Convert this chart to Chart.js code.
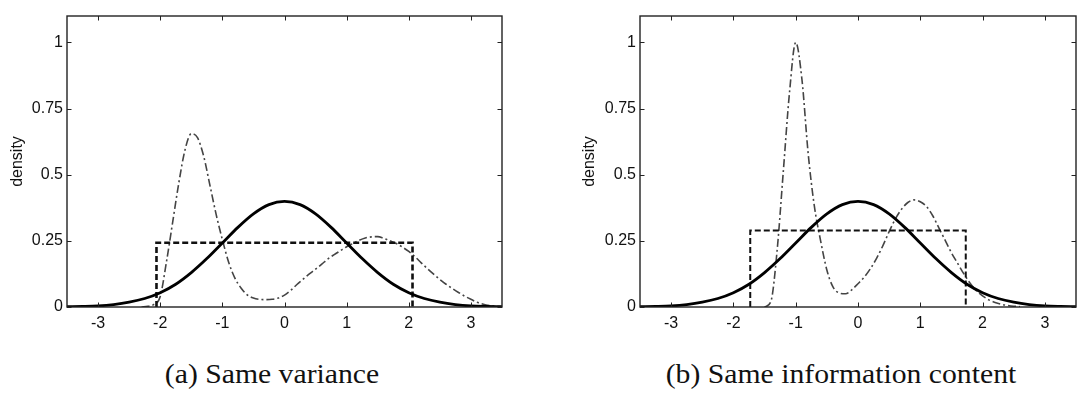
<!DOCTYPE html>
<html><head><meta charset="utf-8">
<script src="https://cdn.jsdelivr.net/npm/chart.js@4.4.1/dist/chart.umd.min.js"></script>
<style>
html,body{margin:0;padding:0;background:#fff;}
body{width:1087px;height:398px;position:relative;overflow:hidden;}
canvas{position:absolute;top:0;}
#c1{left:0;} #c2{left:572px;}
.cap{position:absolute;top:361px;font-family:"Liberation Serif",serif;font-size:27px;line-height:27px;color:#111;white-space:nowrap;transform:translateX(-50%) scaleX(1.1);}
</style></head><body>
<canvas id="c1" width="540" height="345"></canvas>
<canvas id="c2" width="515" height="345"></canvas>
<div class="cap" id="capA" style="left:272px"></div>
<div class="cap" id="capB" style="left:841px"></div>
<script>
// ---- data ----
const captions = ['(a) Same variance', '(b) Same information content'];
const yAxisTitle = 'density';
const xTickValues = [-3, -2, -1, 0, 1, 2, 3];
const xTickLabels = ['-3', '-2', '-1', '0', '1', '2', '3'];
const yTickValues = [0, 0.25, 0.5, 0.75, 1];
const yTickLabels = ['0', '0.25', '0.5', '0.75', '1'];
const xMin = -3.5, xMax = 3.5, yMax = 1.1;

// Gaussian (solid), same in both panels
const normalX = [-3.5,-3.25,-3,-2.75,-2.5,-2.25,-2,-1.75,-1.5,-1.25,-1,-0.75,-0.5,-0.25,0,0.25,0.5,0.75,1,1.25,1.5,1.75,2,2.25,2.5,2.75,3,3.25,3.5];
const normalY = [0.001,0.002,0.004,0.009,0.018,0.032,0.054,0.086,0.130,0.183,0.242,0.301,0.352,0.387,0.399,0.387,0.352,0.301,0.242,0.183,0.130,0.086,0.054,0.032,0.018,0.009,0.004,0.002,0.001];

// Uniform (dashed)
const uniformAX = [-2.06, -2.06, 2.06, 2.06];
const uniformAY = [0, 0.243, 0.243, 0];
const uniformBX = [-1.73, -1.73, 1.73, 1.73];
const uniformBY = [0, 0.289, 0.289, 0];

// Mixture (dash-dot), panel (a)
const mixAX = [-2.3,-2.2,-2.1,-2.0,-1.9,-1.8,-1.7,-1.6,-1.5,-1.4,-1.3,-1.2,-1.1,-1.0,-0.9,-0.8,-0.7,-0.6,-0.5,-0.4,-0.3,-0.2,-0.1,0.0,0.1,0.2,0.3,0.4,0.5,0.6,0.7,0.8,0.9,1.0,1.1,1.2,1.3,1.4,1.5,1.6,1.7,1.8,1.9,2.0,2.1,2.2,2.3,2.4,2.5,2.6,2.7,2.8,2.9,3.0,3.1,3.2,3.3,3.4,3.5];
const mixAY = [0.0,0.003,0.01,0.04,0.17,0.32,0.47,0.595,0.655,0.64,0.57,0.46,0.35,0.255,0.17,0.11,0.072,0.046,0.034,0.029,0.028,0.029,0.034,0.045,0.063,0.085,0.105,0.125,0.143,0.162,0.182,0.198,0.213,0.228,0.24,0.252,0.261,0.265,0.266,0.259,0.25,0.24,0.226,0.21,0.19,0.167,0.145,0.124,0.104,0.086,0.07,0.055,0.041,0.029,0.018,0.01,0.005,0.002,0.001];

// Mixture (dash-dot), panel (b)
const mixBX = [-1.5,-1.4,-1.3,-1.2,-1.1,-1.0,-0.9,-0.8,-0.7,-0.6,-0.5,-0.4,-0.3,-0.2,-0.1,0.0,0.1,0.2,0.3,0.4,0.5,0.6,0.7,0.8,0.9,1.0,1.1,1.2,1.3,1.4,1.5,1.6,1.7,1.8,1.9,2.0,2.1,2.2,2.3,2.4,2.5,2.6];
const mixBY = [0.0,0.02,0.21,0.51,0.81,1.0,0.86,0.58,0.38,0.25,0.14,0.075,0.053,0.05,0.065,0.088,0.113,0.145,0.185,0.232,0.285,0.333,0.37,0.395,0.405,0.398,0.38,0.345,0.298,0.252,0.205,0.165,0.125,0.09,0.062,0.042,0.027,0.017,0.01,0.006,0.003,0.001];

// ---- helpers ----
const pts = (xs, ys) => xs.map((x, i) => ({x, y: ys[i]}));
document.getElementById('capA').textContent = captions[0];
document.getElementById('capB').textContent = captions[1];

const framePlugin = {
  id: 'frame',
  afterDatasetsDraw(chart) {
    const {ctx, chartArea: a, scales: {x, y}} = chart;
    ctx.save();
    ctx.strokeStyle = '#222';
    ctx.lineWidth = 1.4;
    ctx.strokeRect(a.left, a.top, a.right - a.left, a.bottom - a.top);
    const L = 4.5;
    ctx.lineWidth = 1;
    ctx.beginPath();
    x.ticks.forEach(t => {
      const px = Math.round(x.getPixelForValue(t.value)) + 0.5;
      ctx.moveTo(px, a.bottom); ctx.lineTo(px, a.bottom - L);
      ctx.moveTo(px, a.top); ctx.lineTo(px, a.top + L);
    });
    y.ticks.forEach(t => {
      const py = Math.round(y.getPixelForValue(t.value)) + 0.5;
      ctx.moveTo(a.left, py); ctx.lineTo(a.left + L, py);
      ctx.moveTo(a.right, py); ctx.lineTo(a.right - L, py);
    });
    ctx.stroke();
    ctx.restore();
  }
};

const tickFont = {family: 'Liberation Sans', size: 16};

function makeChart(id, datasets, yWidth, padRight) {
  return new Chart(document.getElementById(id), {
    type: 'line',
    data: {datasets},
    options: {
      responsive: false, animation: false, devicePixelRatio: 1,
      layout: {padding: {left: 0, top: 16, right: padRight, bottom: 0}},
      plugins: {legend: {display: false}, tooltip: {enabled: false}},
      elements: {point: {radius: 0}},
      scales: {
        x: {
          type: 'linear', min: xMin, max: xMax,
          grid: {display: false, drawTicks: false}, border: {display: false},
          afterBuildTicks: s => { s.ticks = xTickValues.map(v => ({value: v})); },
          afterFit: s => { s.height = 38; },
          ticks: {padding: 7, font: tickFont, color: '#111', autoSkip: false, maxRotation: 0,
                  callback: (v, i) => xTickLabels[i]}
        },
        y: {
          type: 'linear', min: 0, max: yMax,
          grid: {display: false, drawTicks: false}, border: {display: false},
          afterBuildTicks: s => { s.ticks = yTickValues.map(v => ({value: v})); },
          afterFit: s => { s.width = yWidth; },
          title: {display: true, text: yAxisTitle, font: {family: 'Liberation Sans', size: 16}, color: '#111', padding: {top: 8, bottom: 0}},
          ticks: {padding: 4, font: tickFont, color: '#111', autoSkip: false,
                  callback: (v, i) => yTickLabels[i]}
        }
      }
    },
    plugins: [framePlugin]
  });
}

function sets(uX, uY, mX, mY, uWidth) {
  return [
    {data: pts(normalX, normalY), borderColor: '#000', borderWidth: 2.8, cubicInterpolationMode: 'monotone', fill: false},
    {data: pts(uX, uY), borderColor: '#111', borderWidth: uWidth, borderDash: [6, 3], tension: 0, fill: false},
    {data: pts(mX, mY), borderColor: '#444', borderWidth: 1.6, borderDash: [8, 3, 2, 3], cubicInterpolationMode: 'monotone', fill: false}
  ];
}

makeChart('c1', sets(uniformAX, uniformAY, mixAX, mixAY, 2.6), 67, 38);
makeChart('c2', sets(uniformBX, uniformBY, mixBX, mixBY, 2.0), 68, 11);
</script>
</body></html>
